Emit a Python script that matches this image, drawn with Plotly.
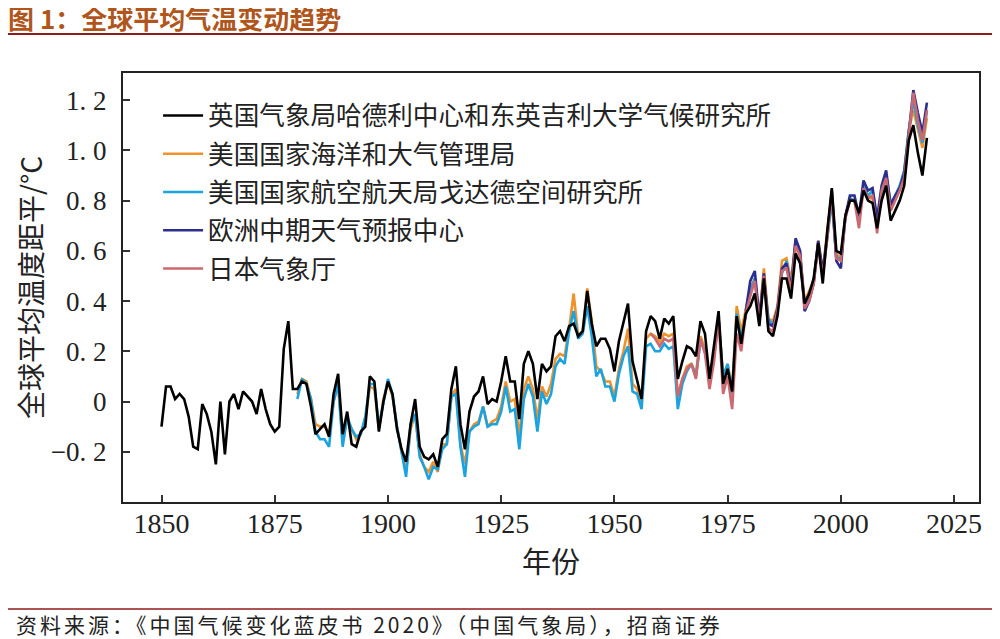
import plotly.graph_objects as go

# ---------------- data ----------------
years_hadcrut = list(range(1850, 2020))
hadcrut = [
    -0.10, 0.06, 0.06, 0.01, 0.03, 0.01, -0.06, -0.18, -0.19, -0.01,
    -0.05, -0.12, -0.25, 0.00, -0.21, 0.00, 0.03, -0.03, 0.04, 0.02,
    0.00, -0.05, 0.05, -0.03, -0.09, -0.12, -0.10, 0.21, 0.32, 0.05,
    0.05, 0.08, 0.07, -0.02, -0.13, -0.11, -0.09, -0.14, 0.03, 0.11,
    -0.13, -0.04, -0.17, -0.18, -0.12, -0.10, 0.10, 0.08, -0.12, 0.00,
    0.08, 0.03, -0.11, -0.19, -0.24, -0.09, 0.01, -0.18, -0.22, -0.23,
    -0.21, -0.26, -0.15, -0.13, 0.05, 0.14, -0.09, -0.19, -0.04, 0.02,
    0.04, 0.10, -0.01, 0.01, 0.00, 0.08, 0.18, 0.08, 0.08, -0.07,
    0.15, 0.20, 0.15, 0.01, 0.15, 0.12, 0.14, 0.26, 0.28, 0.24,
    0.30, 0.31, 0.26, 0.28, 0.44, 0.31, 0.22, 0.25, 0.25, 0.21,
    0.12, 0.24, 0.32, 0.39, 0.16, 0.09, 0.01, 0.28, 0.34, 0.32,
    0.25, 0.33, 0.31, 0.34, 0.09, 0.16, 0.22, 0.21, 0.18, 0.32,
    0.27, 0.09, 0.23, 0.36, 0.07, 0.13, 0.04, 0.34, 0.23, 0.35,
    0.38, 0.43, 0.30, 0.49, 0.28, 0.26, 0.34, 0.49, 0.49, 0.41,
    0.59, 0.55, 0.39, 0.43, 0.49, 0.63, 0.47, 0.68, 0.85, 0.60,
    0.59, 0.74, 0.80, 0.80, 0.75, 0.84, 0.80, 0.79, 0.69, 0.80,
    0.86, 0.72, 0.76, 0.80, 0.86, 1.04, 1.10, 0.99, 0.90, 1.05,
]

years_noaa = list(range(1880, 2020))
noaa = [
    0.03, 0.09, 0.08, 0.01, -0.09, -0.10, -0.10, -0.13, 0.00, 0.07,
    -0.16, -0.07, -0.11, -0.15, -0.13, -0.07, 0.06, 0.05, -0.11, 0.01,
    0.08, 0.02, -0.10, -0.20, -0.28, -0.11, -0.05, -0.21, -0.26, -0.28,
    -0.24, -0.28, -0.17, -0.17, 0.02, 0.05, -0.17, -0.25, -0.12, -0.09,
    -0.08, -0.02, -0.10, -0.08, -0.07, -0.02, 0.08, 0.00, 0.01, -0.14,
    0.05, 0.10, 0.05, -0.07, 0.06, 0.02, 0.07, 0.17, 0.19, 0.18,
    0.29, 0.43, 0.26, 0.28, 0.45, 0.32, 0.14, 0.12, 0.08, 0.08,
    0.02, 0.13, 0.20, 0.29, 0.07, 0.05, 0.00, 0.25, 0.27, 0.26,
    0.24, 0.27, 0.26, 0.27, 0.02, 0.09, 0.14, 0.15, 0.11, 0.26,
    0.21, 0.09, 0.18, 0.33, 0.10, 0.15, 0.05, 0.38, 0.28, 0.36,
    0.45, 0.49, 0.33, 0.53, 0.33, 0.32, 0.38, 0.56, 0.57, 0.48,
    0.64, 0.59, 0.40, 0.44, 0.48, 0.64, 0.52, 0.68, 0.82, 0.58,
    0.58, 0.74, 0.80, 0.80, 0.75, 0.85, 0.81, 0.81, 0.72, 0.83,
    0.89, 0.77, 0.81, 0.85, 0.92, 1.08, 1.16, 1.08, 1.01, 1.13,
]

years_nasa = list(range(1880, 2020))
nasa = [
    0.01, 0.09, 0.07, 0.01, -0.12, -0.15, -0.15, -0.18, 0.00, 0.07,
    -0.18, -0.06, -0.11, -0.14, -0.13, -0.06, 0.07, 0.07, -0.10, -0.01,
    0.09, 0.03, -0.10, -0.20, -0.30, -0.09, -0.05, -0.22, -0.26, -0.31,
    -0.26, -0.27, -0.19, -0.17, 0.02, 0.03, -0.18, -0.30, -0.12, -0.10,
    -0.09, -0.02, -0.10, -0.09, -0.09, -0.04, 0.06, -0.04, -0.03, -0.19,
    0.01, 0.07, 0.02, -0.12, 0.04, -0.01, 0.03, 0.14, 0.17, 0.15,
    0.28, 0.36, 0.25, 0.27, 0.38, 0.26, 0.10, 0.13, 0.06, 0.06,
    0.00, 0.11, 0.18, 0.22, 0.04, 0.03, -0.03, 0.22, 0.23, 0.20,
    0.20, 0.23, 0.21, 0.22, -0.03, 0.07, 0.12, 0.15, 0.10, 0.24,
    0.20, 0.09, 0.18, 0.33, 0.10, 0.15, 0.03, 0.35, 0.25, 0.34,
    0.44, 0.49, 0.32, 0.49, 0.33, 0.30, 0.36, 0.51, 0.56, 0.45,
    0.63, 0.58, 0.39, 0.41, 0.48, 0.63, 0.51, 0.65, 0.80, 0.57,
    0.57, 0.73, 0.81, 0.80, 0.72, 0.86, 0.82, 0.84, 0.72, 0.83,
    0.90, 0.79, 0.82, 0.86, 0.92, 1.08, 1.20, 1.10, 1.03, 1.16,
]

years_ecmwf = list(range(1979, 2020))
ecmwf = [
    0.36, 0.48, 0.52, 0.33, 0.51, 0.31, 0.30, 0.37, 0.53, 0.55,
    0.45, 0.65, 0.60, 0.36, 0.40, 0.47, 0.64, 0.52, 0.66, 0.84,
    0.56, 0.53, 0.74, 0.82, 0.82, 0.74, 0.88, 0.84, 0.85, 0.73,
    0.86, 0.92, 0.78, 0.82, 0.85, 0.91, 1.07, 1.24, 1.15, 1.07,
    1.19,
]

years_jma = list(range(1958, 2020))
jma = [
    0.27, 0.25, 0.22, 0.25, 0.24, 0.25, 0.02, 0.09, 0.13, 0.15,
    0.09, 0.25, 0.19, 0.05, 0.16, 0.33, 0.03, 0.10, -0.03, 0.27,
    0.20, 0.35, 0.42, 0.48, 0.31, 0.50, 0.29, 0.28, 0.36, 0.52,
    0.53, 0.44, 0.62, 0.58, 0.37, 0.40, 0.47, 0.62, 0.50, 0.65,
    0.83, 0.57, 0.56, 0.73, 0.80, 0.80, 0.69, 0.85, 0.81, 0.82,
    0.67, 0.84, 0.89, 0.76, 0.80, 0.84, 0.89, 1.06, 1.23, 1.12,
    1.04, 1.16,
]

names = [
    "英国气象局哈德利中心和东英吉利大学气候研究所",
    "美国国家海洋和大气管理局",
    "美国国家航空航天局戈达德空间研究所",
    "欧洲中期天气预报中心",
    "日本气象厅",
]

x_ticks = [1850, 1875, 1900, 1925, 1950, 1975, 2000, 2025]
y_ticks = [-0.2, 0.0, 0.2, 0.4, 0.6, 0.8, 1.0, 1.2]
y_tick_text = ["\u22120. 2", "0", "0. 2", "0. 4", "0. 6", "0. 8", "1. 0", "1. 2"]

# ---------------- figure ----------------
CJK = "Noto Sans CJK SC, Noto Sans, sans-serif"
SERIF = "Liberation Serif, DejaVu Serif, serif"

colors = ["#000000", "#F0922B", "#1BA3E0", "#2B2E8E", "#CC6870"]

series = [
    (years_hadcrut, hadcrut),
    (years_noaa, noaa),
    (years_nasa, nasa),
    (years_ecmwf, ecmwf),
    (years_jma, jma),
]

fig = go.Figure()
# draw coloured series first so the black series lies on top
for i in [1, 2, 3, 4, 0]:
    xs, ys = series[i]
    fig.add_trace(go.Scatter(
        x=xs, y=ys, mode="lines", name=names[i],
        line=dict(color=colors[i], width=2.6),
        legendrank=i + 1, legendgroup=f"g{i}",
    ))

line_red = "#8E1B1B"

# The page body has an 8px margin, so the figure is 8px smaller each way
W, H = 992, 631
L, T, R, B = 115, 65, 21, 137
ph = H - T - B  # plot height in px
pw = W - L - R


def py(page_y):
    """page pixel y -> paper coordinate"""
    return (H - B - (page_y - 8)) / ph


def px(page_x):
    return ((page_x - 8) - L) / pw


fig.update_layout(
    width=W, height=H,
    margin=dict(l=L, r=R, t=T, b=B),
    paper_bgcolor="white", plot_bgcolor="white",
    showlegend=True,
    legend=dict(
        x=0.041, y=0.955, xanchor="left", yanchor="top",
        font=dict(family=CJK, size=25.6, color="#222"),
        bgcolor="rgba(0,0,0,0)", itemwidth=40,
        traceorder="grouped", tracegroupgap=2,
    ),
    title=dict(
        text="<b>图 1：全球平均气温变动趋势</b>",
        x=0.0, xref="container", xanchor="left",
        y=1 - 12 / H, yref="container", yanchor="middle",
        pad=dict(l=0, t=0, b=0, r=0),
        font=dict(family=CJK, size=26, color="#B0561C"),
    ),
    xaxis=dict(
        range=[1841.5, 2030.5], tickvals=x_ticks,
        ticks="inside", ticklen=7, tickwidth=1.5, tickcolor="#333",
        showline=True, linewidth=2, linecolor="#222", mirror=True,
        showgrid=False, zeroline=False,
        tickfont=dict(family=SERIF, size=28, color="#222"),
        ticklabelstandoff=-5,
        title=dict(text="年份", font=dict(family=CJK, size=29, color="#222"), standoff=0),
    ),
    yaxis=dict(
        range=[-0.4, 1.308], tickvals=y_ticks, ticktext=y_tick_text,
        ticks="inside", ticklen=7, tickwidth=1.5, tickcolor="#333",
        showline=True, linewidth=2, linecolor="#222", mirror=True,
        showgrid=False, zeroline=False,
        tickfont=dict(family=SERIF, size=27, color="#222"),
        ticklabelstandoff=9,
        title=dict(text="全球平均温度距平/°C", font=dict(family=CJK, size=28, color="#222"), standoff=0),
    ),
    shapes=[
        dict(type="line", xref="paper", yref="paper", x0=px(8), x1=px(1000),
             y0=py(34), y1=py(34), line=dict(color=line_red, width=2)),
        dict(type="line", xref="paper", yref="paper", x0=px(8), x1=px(1000),
             y0=py(609), y1=py(609), line=dict(color=line_red, width=1.5)),
    ],
    annotations=[
        dict(text='<span style="letter-spacing:3px">资料来源：《中国气候变化蓝皮书 2020》（中国气象局），招商证券</span>',
             xref="paper", yref="paper", x=px(14), y=py(624),
             xanchor="left", yanchor="middle", showarrow=False,
             font=dict(family=CJK, size=21, color="#222")),
    ],
)

fig.write_html("out.html")
